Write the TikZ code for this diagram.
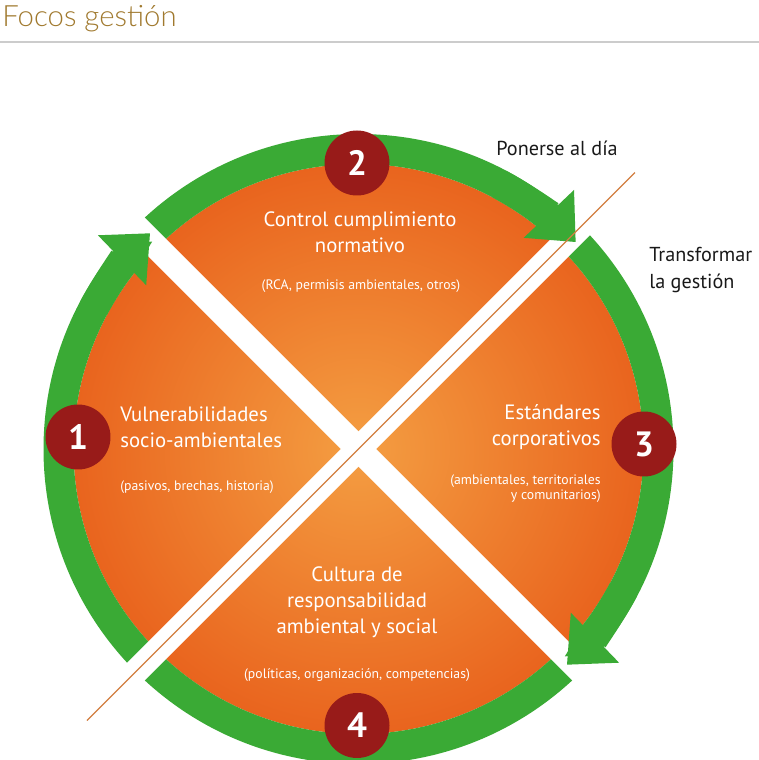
\documentclass[tikz,border=0pt]{standalone}
\usepackage{fontspec}
\setmainfont{PT Sans}
\newfontfamily\titlefont{Lato Light}
\usetikzlibrary{arrows.meta}
\definecolor{ringgreen}{RGB}{58,170,53}
\definecolor{numred}{RGB}{152,27,25}
\definecolor{orangeedge}{RGB}{233,100,30}
\definecolor{orangemid}{RGB}{244,158,66}
\definecolor{titlegold}{RGB}{160,121,46}
\definecolor{diagline}{RGB}{210,126,64}
\tikzset{
  ring/.style      = {line width=0.6cm, ringgreen},
  ringarrow/.style = {line width=0.6cm, ringgreen,
                      -{Triangle[length=0.78cm, width=1.34cm]}},
  gap/.style       = {line width=0.5cm, white},
  numdot/.style    = {circle, fill=numred, minimum size=1.3cm, inner sep=0pt,
                      text=white, font=\fontsize{20}{20}\selectfont\bfseries},
  quadtitle/.style = {text=white, inner sep=0pt, font=\fontsize{11.8}{14.9}\selectfont},
  quadnote/.style  = {text=white, inner sep=0pt, font=\fontsize{7.8}{8.8}\selectfont},
  steplabel/.style = {text=black!90, inner sep=0pt, align=left,
                      font=\fontsize{11.5}{15.3}\selectfont},
}
\begin{document}
\begin{tikzpicture}[x=0.02cm, y=0.02cm]
    \useasboundingbox (0,0) rectangle (759,760);
    \coordinate (C) at (358.5,311);

    % --- heading ---
    \node[anchor=base west, inner sep=0pt, text=titlegold,
          font=\titlefont\fontsize{16.7}{16.7}\selectfont] (title) at (2,733) {Focos gestión};
    \draw[black!20, line width=0.03cm] (0,718) -- (759,718);

    % --- disk, ring and cross ---
    \begin{scope}[shift={(C)}]
      \shade[inner color=orangemid, outer color=orangeedge] (0,0) circle (285);
      \draw[ring] (0,0) circle (300);
      \draw[gap] (135:322) -- (-45:322);
      \draw[gap] (45:322) -- (225:322);
      \draw[ringarrow] (62:300) arc (62:43.6:300);
      \draw[ringarrow] (-28:300) arc (-28:-46:300);
      \draw[ringarrow] (152:300) arc (152:134:300);
      \draw[diagline, line width=0.024cm] (225:384) -- (45:391);
    \end{scope}

    % --- quadrant texts ---
    \node[quadtitle, align=center] (q2) at (360,528) {Control cumplimiento\\normativo};
    \node[quadnote] (q2note) at (361,474) {(RCA, permisis ambientales, otros)};
    \node[quadtitle, align=left, anchor=west] (q1) at (120,332.5)
      {Vulnerabilidades\\socio-ambientales};
    \node[quadnote, anchor=west] (q1note) at (120,273) {(pasivos, brechas, historia)};
    \node[quadtitle, align=right, anchor=east] (q3) at (601,333) {Estándares\\corporativos};
    \node[quadnote, align=right, anchor=east] (q3note) at (601,271.5)
      {(ambientales, territoriales\\y comunitarios)};
    \node[quadtitle, align=center] (q4) at (357,158)
      {Cultura de\\responsabilidad\\ambiental y social};
    \node[quadnote] (q4note) at (357,85) {(políticas, organización, competencias)};

    % --- numbered markers ---
    \node[numdot] (n1) at (78,323) {1};
    \node[numdot] (n2) at (357,597) {2};
    \node[numdot] (n3) at (644,316) {3};
    \node[numdot] (n4) at (357,34.5) {4};

    % --- outside labels ---
    \node[steplabel, anchor=base west] (catchup) at (496,604) {Ponerse al día};
    \node[steplabel, anchor=north west] (transform) at (649,513) {Transformar\\la gestión};
\end{tikzpicture}
\end{document}
